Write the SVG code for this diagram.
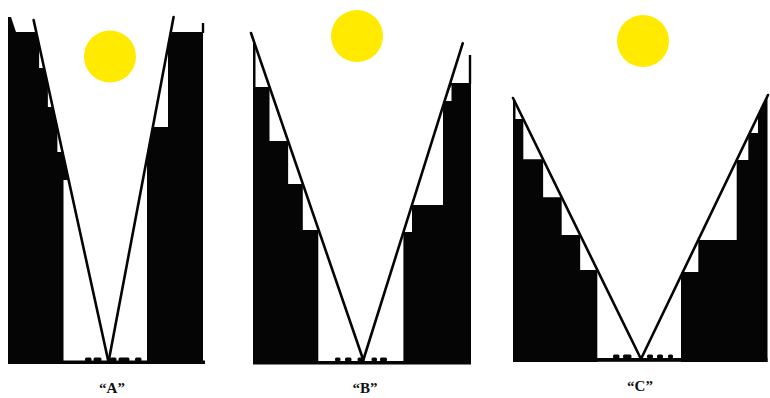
<svg xmlns="http://www.w3.org/2000/svg" width="770" height="398" viewBox="0 0 770 398">
  <style>
    .mass { fill: #050505; }
    .notch { fill: #ffffff; }
    .plane { stroke: #050505; stroke-width: 2.6; fill: none; stroke-linecap: round; }
    .spike { stroke: #050505; stroke-width: 2.4; fill: none; }
    .sun { fill: #ffea00; }
    .label { font-family: "Liberation Serif", "DejaVu Serif", serif; font-weight: bold; font-size: 15px; fill: #111; text-anchor: middle; }
  </style>
  <rect width="770" height="398" fill="#ffffff"/>

  <!-- Section A: tall towers, steep sky-exposure planes -->
  <g id="section-a">
    <circle class="sun" cx="110" cy="56.5" r="26"/>
    <g id="a-left-tower">
      <polygon class="mass" points="8,17 11,17 16,32 36.2,32 68.8,180 63.5,180 63.5,364 8,364"/>
      <polygon class="notch" points="39.1,45 39.1,68 44.1,68"/>
      <polygon class="notch" points="47.9,85 47.9,107 52.7,107"/>
      <polygon class="notch" points="57.4,128 57.4,152 62.6,152"/>
    </g>
    <g id="a-right-tower">
      <polygon class="mass" points="170.8,32 203,32 203,364 147,364 147,158"/>
      <polygon class="notch" points="168,46.7 168,127 152.8,127"/>
      <line class="spike" x1="203" y1="23" x2="203" y2="33"/>
    </g>
    <g id="a-street">
      <rect class="mass" x="8" y="360.5" width="197" height="3.5"/>
      <rect class="mass" x="85" y="357.5" width="6.5" height="4" rx="1.5"/>
      <rect class="mass" x="93.5" y="357.5" width="8" height="4" rx="1.5"/>
      <rect class="mass" x="110" y="357.5" width="6.5" height="4" rx="1.5"/>
      <rect class="mass" x="118.5" y="357.5" width="11" height="4" rx="1.5"/>
      <rect class="mass" x="135" y="357.5" width="6.5" height="4" rx="1.5"/>
    </g>
    <g id="a-planes">
      <line class="plane" x1="33.6" y1="20" x2="108.5" y2="362"/>
      <line class="plane" x1="108.5" y1="362" x2="173.6" y2="17"/>
    </g>
    <text class="label" x="112" y="393">“A”</text>
  </g>

  <!-- Section B: moderate setbacks -->
  <g id="section-b">
    <circle class="sun" cx="357" cy="36" r="26"/>
    <g id="b-left-tower">
      <polygon class="mass" points="253,38.8 318.6,230 318.3,230 318.3,364 253,364"/>
      <polygon class="notch" points="255.5,46.1 255.5,87 269.5,87"/>
      <polygon class="notch" points="269.5,87 269.5,141 288.1,141"/>
      <polygon class="notch" points="288.1,141 288.1,184 302.8,184"/>
      <polygon class="notch" points="302.8,184 302.8,230 318.6,230"/>
    </g>
    <g id="b-right-tower">
      <polygon class="mass" points="450.3,83 471,83 471,364 403.4,364 403.4,232"/>
      <polygon class="notch" points="451.5,85 451.5,101 444.6,101"/>
      <polygon class="notch" points="443,106 443,205 412,205"/>
      <polygon class="notch" points="412,205 412,232 403.5,232"/>
      <line class="spike" x1="470" y1="55" x2="470" y2="84"/>
    </g>
    <g id="b-street">
      <rect class="mass" x="253" y="361" width="218" height="3.5"/>
      <rect class="mass" x="335" y="357.5" width="5.5" height="4" rx="1.5"/>
      <rect class="mass" x="345" y="357.5" width="6.5" height="4" rx="1.5"/>
      <rect class="mass" x="357.5" y="357.5" width="5.5" height="4" rx="1.5"/>
      <rect class="mass" x="371.5" y="357.5" width="5.5" height="4" rx="1.5"/>
      <rect class="mass" x="380" y="357.5" width="7" height="4" rx="1.5"/>
    </g>
    <g id="b-planes">
      <line class="plane" x1="251" y1="33" x2="363.3" y2="360"/>
      <line class="plane" x1="363.3" y1="360" x2="462.7" y2="43.3"/>
    </g>
    <text class="label" x="365" y="393">“B”</text>
  </g>

  <!-- Section C: shallow sky-exposure planes, lower towers -->
  <g id="section-c">
    <circle class="sun" cx="643" cy="41" r="26"/>
    <g id="c-left-tower">
      <polygon class="mass" points="513,98 597.3,270 597.3,362 513,362"/>
      <polygon class="notch" points="515.5,103.1 515.5,119 523.3,119"/>
      <polygon class="notch" points="523.3,119 523.3,159.3 543.1,159.3"/>
      <polygon class="notch" points="543.1,159.3 543.1,197.3 561.7,197.3"/>
      <polygon class="notch" points="561.7,197.3 561.7,235 580.2,235"/>
      <polygon class="notch" points="580.2,235 580.2,270 597.3,270"/>
    </g>
    <g id="c-right-tower">
      <polygon class="mass" points="767.5,96 683,272 681,272 681,362 767.5,362"/>
      <polygon class="notch" points="758,115.8 758,133 749.7,133"/>
      <polygon class="notch" points="748.3,136 748.3,160 736.7,160"/>
      <polygon class="notch" points="736.7,160 736.7,240 698.3,240"/>
      <polygon class="notch" points="698.3,240 698.3,272 683,272"/>
    </g>
    <g id="c-street">
      <rect class="mass" x="513" y="358" width="254.5" height="3.8"/>
      <rect class="mass" x="613" y="354.5" width="6.5" height="4" rx="1.5"/>
      <rect class="mass" x="623" y="354.5" width="8.5" height="4" rx="1.5"/>
      <rect class="mass" x="647" y="354.5" width="6" height="4" rx="1.5"/>
      <rect class="mass" x="657" y="354.5" width="6" height="4" rx="1.5"/>
      <rect class="mass" x="668" y="354.5" width="5" height="4" rx="1.5"/>
    </g>
    <g id="c-planes">
      <line class="plane" x1="513" y1="98" x2="641" y2="359"/>
      <line class="plane" x1="641" y1="359" x2="768" y2="95"/>
    </g>
    <text class="label" x="640" y="391">“C”</text>
  </g>
</svg>
